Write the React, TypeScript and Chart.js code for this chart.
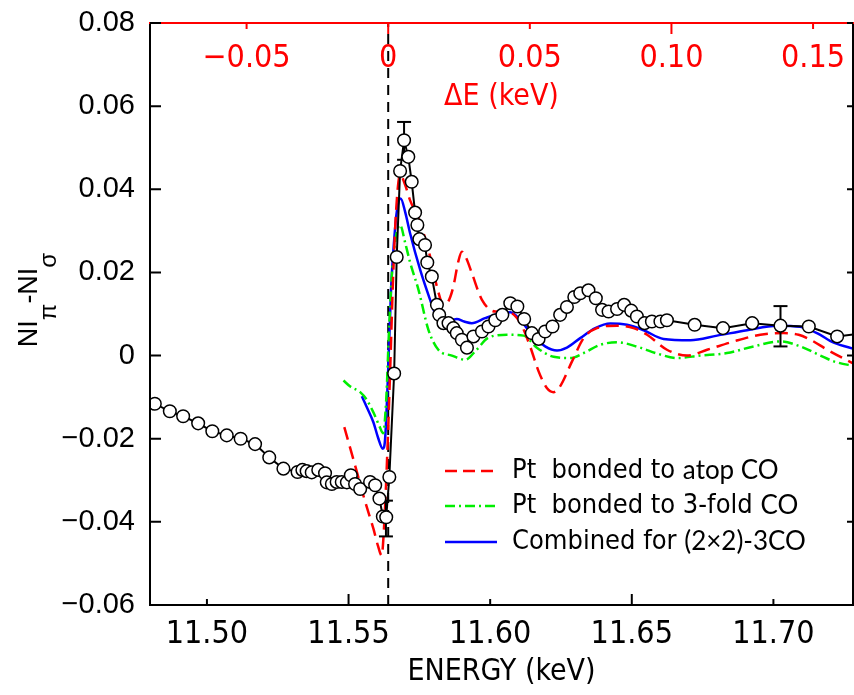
import React, { useEffect, useRef } from "react";
import { Chart, registerables } from "chart.js";

Chart.register(...registerables);

// ---------- data ----------
const E0 = 11.564; // edge energy (keV), origin of the ΔE axis
const X_MIN = 11.4799;
const X_MAX = 11.7281;
const Y_MIN = -0.06;
const Y_MAX = 0.08;

const xTicks = [11.5, 11.55, 11.6, 11.65, 11.7];
const xTickLabels = ["11.50", "11.55", "11.60", "11.65", "11.70"];
const yTicks = [-0.06, -0.04, -0.02, 0, 0.02, 0.04, 0.06, 0.08];
const yTickLabels = ["−0.06", "−0.04", "−0.02", "0", "0.02", "0.04", "0.06", "0.08"];
const dETicks = [-0.05, 0, 0.05, 0.1, 0.15];
const dETickLabels = ["−0.05", "0", "0.05", "0.10", "0.15"];

const xTitle = "ENERGY (keV)";
const topTitle = "ΔE (keV)";

// experimental NIπ − NIσ
const expE = [11.4785, 11.4816, 11.4869, 11.4916, 11.4969, 11.5019, 11.507, 11.5119, 11.517, 11.522, 11.527, 11.532, 11.5337, 11.5352, 11.537, 11.5393, 11.5417, 11.5423, 11.5441, 11.5458, 11.5476, 11.5494, 11.5508, 11.5523, 11.5541, 11.5576, 11.5594, 11.5609, 11.5621, 11.5633, 11.5644, 11.5661, 11.567, 11.5682, 11.5696, 11.5711, 11.5723, 11.5735, 11.5743, 11.575, 11.577, 11.5778, 11.5794, 11.5812, 11.582, 11.5835, 11.5853, 11.587, 11.5882, 11.59, 11.5918, 11.5941, 11.5971, 11.5994, 11.6018, 11.6043, 11.6071, 11.6096, 11.612, 11.6147, 11.6171, 11.6194, 11.622, 11.6247, 11.6271, 11.6297, 11.6318, 11.6347, 11.6373, 11.6395, 11.6418, 11.6448, 11.6473, 11.6498, 11.6518, 11.6545, 11.6571, 11.6601, 11.6624, 11.6722, 11.6822, 11.6925, 11.7025, 11.7125, 11.7225, 11.73];
const expV = [-0.0093, -0.0116, -0.0134, -0.0146, -0.0163, -0.0182, -0.0192, -0.02, -0.0213, -0.0245, -0.0272, -0.028, -0.0275, -0.0278, -0.0281, -0.0275, -0.0283, -0.0305, -0.0309, -0.0304, -0.0304, -0.0305, -0.0288, -0.0309, -0.0321, -0.0304, -0.0312, -0.0344, -0.0387, -0.0389, -0.0292, -0.0043, 0.0237, 0.0444, 0.0518, 0.0478, 0.0418, 0.0344, 0.0314, 0.028, 0.0266, 0.0224, 0.019, 0.0122, 0.0098, 0.0078, 0.0078, 0.0066, 0.0054, 0.0038, 0.0019, 0.0046, 0.0058, 0.007, 0.0085, 0.0098, 0.0126, 0.0118, 0.0088, 0.0054, 0.004, 0.0058, 0.007, 0.0098, 0.0117, 0.0141, 0.015, 0.0157, 0.0138, 0.011, 0.0106, 0.0112, 0.0122, 0.0108, 0.0094, 0.0078, 0.0082, 0.0082, 0.0085, 0.0074, 0.0066, 0.0078, 0.0072, 0.007, 0.0046, 0.0052];

// error bars
const errE = [11.5632, 11.5696, 11.7025];
const errLo = [-0.0435, 0.0471, 0.0022];
const errHi = [-0.0349, 0.0562, 0.0119];

// Pt bonded to atop CO
const redE = [11.5485, 11.5523, 11.5558, 11.5588, 11.5604, 11.5617, 11.5625, 11.5636, 11.5647, 11.5657, 11.5668, 11.5682, 11.57, 11.5717, 11.5746, 11.577, 11.5788, 11.5812, 11.5835, 11.5852, 11.587, 11.5887, 11.59, 11.5915, 11.5935, 11.5971, 11.6018, 11.6059, 11.6106, 11.6141, 11.6171, 11.62, 11.6224, 11.6247, 11.6289, 11.633, 11.6377, 11.6448, 11.6506, 11.6554, 11.6624, 11.6695, 11.6766, 11.686, 11.6954, 11.7036, 11.7089, 11.7131, 11.719, 11.729];
const redV = [-0.0172, -0.0264, -0.035, -0.0417, -0.0458, -0.0481, -0.0417, -0.0249, -0.0034, 0.0182, 0.035, 0.0435, 0.041, 0.0374, 0.0331, 0.0283, 0.0238, 0.0166, 0.0122, 0.013, 0.0166, 0.0225, 0.025, 0.0235, 0.0199, 0.0134, 0.0106, 0.0106, 0.0079, 0.0022, -0.0038, -0.0078, -0.0088, -0.0074, -0.0014, 0.0042, 0.0066, 0.0072, 0.0066, 0.005, 0.0014, 0.0, 0.0014, 0.0034, 0.005, 0.0054, 0.005, 0.0038, 0.0014, -0.0022];

// Pt bonded to 3-fold CO
const greenE = [11.5482, 11.5505, 11.5541, 11.5564, 11.5588, 11.5611, 11.5622, 11.5633, 11.5643, 11.5654, 11.5668, 11.5682, 11.57, 11.5717, 11.5747, 11.5782, 11.5817, 11.5865, 11.5912, 11.5947, 11.5994, 11.6059, 11.6118, 11.6165, 11.6224, 11.6283, 11.633, 11.6389, 11.6448, 11.653, 11.6589, 11.666, 11.6742, 11.6836, 11.693, 11.7025, 11.7095, 11.7166, 11.7213, 11.729];
const greenV = [-0.006, -0.0074, -0.0088, -0.0106, -0.0137, -0.0173, -0.0187, -0.0106, 0.0062, 0.0206, 0.0288, 0.0314, 0.0271, 0.0225, 0.0158, 0.0062, 0.0014, 0.0, -0.001, 0.001, 0.0043, 0.005, 0.0048, 0.0019, -0.0003, -0.0006, 0.0006, 0.0026, 0.0032, 0.0019, 0.0005, -0.0006, 0.0, 0.0006, 0.0022, 0.0034, 0.0022, 0.0, -0.0014, -0.0026];

// Combined for (2×2)-3CO
const blueE = [11.5547, 11.5565, 11.5588, 11.5604, 11.5621, 11.5629, 11.564, 11.565, 11.5661, 11.5671, 11.5684, 11.57, 11.5717, 11.5753, 11.5788, 11.5812, 11.5835, 11.5859, 11.5882, 11.5908, 11.5935, 11.5982, 11.6029, 11.6071, 11.6106, 11.6152, 11.6194, 11.6236, 11.6271, 11.6318, 11.6371, 11.6424, 11.6483, 11.6542, 11.6612, 11.6707, 11.6801, 11.6907, 11.7013, 11.7095, 11.7154, 11.7213, 11.729];
const blueV = [-0.0098, -0.0125, -0.0161, -0.0197, -0.0224, -0.0201, -0.0034, 0.0158, 0.0278, 0.035, 0.0378, 0.0345, 0.0295, 0.0206, 0.0134, 0.009, 0.007, 0.0082, 0.0088, 0.0082, 0.0078, 0.009, 0.01, 0.0104, 0.0086, 0.0046, 0.0022, 0.0012, 0.0019, 0.0042, 0.0066, 0.0077, 0.0074, 0.0061, 0.004, 0.0037, 0.0048, 0.0061, 0.0072, 0.0069, 0.0054, 0.0031, 0.0015];

const legendLabels = ["Pt bonded to atop CO", "Pt bonded to 3-fold CO", "Combined for (2×2)-3CO"];
// how each legend label is typeset: [text, font kind]
const legendParts: [string, string][][] = [
  [["Pt  bonded to ", "narrow"], ["atop CO", "gothic"]],
  [["Pt  bonded to 3-fold ", "narrow"], ["CO", "gothic"]],
  [["Combined for ", "narrow"], ["(2×2)-3CO", "gothic"]],
];

// ---------- styles ----------
const NARROW = '"Liberation Sans Narrow", "DejaVu Sans Condensed", "Liberation Sans", sans-serif';
const SANS = '"Liberation Sans", Arial, sans-serif';
const GOTHIC = 'Lato, "DejaVu Sans", sans-serif';
const RED = "#ff0000";
const GREEN = "#00ee00";
const BLUE = "#0000ff";
const RED_DASH = [13, 7];
const GREEN_DASH = [10, 4, 2, 4];

const pts = (xs: number[], ys: number[]) => xs.map((x, i) => ({ x, y: ys[i] }));

const overlayPlugin = {
  id: "overlay",
  afterDatasetsDraw(chart: any) {
    const { ctx, chartArea, scales } = chart;
    const { left, right, top, bottom } = chartArea;
    const xs = scales.x;
    const ys = scales.y;
    ctx.save();

    // frame
    ctx.setLineDash([]);
    ctx.lineCap = "butt";
    ctx.lineWidth = 2;
    ctx.strokeStyle = "#000";
    ctx.beginPath();
    ctx.moveTo(left, top);
    ctx.lineTo(left, bottom);
    ctx.lineTo(right, bottom);
    ctx.lineTo(right, top);
    ctx.stroke();
    ctx.strokeStyle = RED;
    ctx.beginPath();
    ctx.moveTo(left - 1, top);
    ctx.lineTo(right + 1, top);
    ctx.stroke();

    // inward ticks: left / right
    ctx.strokeStyle = "#000";
    ctx.lineWidth = 2;
    yTicks.forEach((v) => {
      const py = ys.getPixelForValue(v);
      ctx.beginPath();
      ctx.moveTo(left, py);
      ctx.lineTo(left + 11, py);
      ctx.moveTo(right, py);
      ctx.lineTo(right - 6, py);
      ctx.stroke();
    });
    // bottom ticks
    xTicks.forEach((v, i) => {
      const px = xs.getPixelForValue(v);
      const len = i % 2 === 1 ? 11 : 6;
      ctx.beginPath();
      ctx.moveTo(px, bottom);
      ctx.lineTo(px, bottom - len);
      ctx.stroke();
    });
    // top ΔE axis (red)
    ctx.strokeStyle = RED;
    ctx.fillStyle = RED;
    ctx.font = `32px ${NARROW}`;
    ctx.textAlign = "center";
    ctx.textBaseline = "middle";
    dETicks.forEach((d, i) => {
      const px = xs.getPixelForValue(E0 + d);
      const len = i % 2 === 1 ? 11 : 6;
      ctx.beginPath();
      ctx.moveTo(px, top);
      ctx.lineTo(px, top + len);
      ctx.stroke();
      ctx.fillText(dETickLabels[i], px, 59);
    });
    ctx.font = `30px ${NARROW}`;
    ctx.fillText(topTitle, (left + right) / 2, 97);

    // legend
    const lx0 = 445;
    const lx1 = 497;
    const tx = 512;
    const rowsY = [471, 506, 542];
    const styles = [
      { c: RED, d: [12, 6] },
      { c: GREEN, d: GREEN_DASH },
      { c: BLUE, d: [] as number[] },
    ];
    rowsY.forEach((yy, r) => {
      ctx.strokeStyle = styles[r].c;
      ctx.lineWidth = 2.5;
      ctx.setLineDash(styles[r].d);
      ctx.beginPath();
      ctx.moveTo(lx0, yy);
      ctx.lineTo(lx1, yy);
      ctx.stroke();
      ctx.setLineDash([]);
      let x = tx;
      ctx.fillStyle = "#000";
      ctx.textAlign = "left";
      ctx.textBaseline = "middle";
      legendParts[r].forEach(([t, kind]) => {
        ctx.font = kind === "narrow" ? `27px ${NARROW}` : `26px ${GOTHIC}`;
        ctx.fillText(t, x, yy);
        x += ctx.measureText(t).width;
      });
    });
    ctx.restore();
  },
  afterDraw(chart: any) {
    // y-axis title: NIπ − NIσ (rotated, with subscripts)
    const { ctx } = chart;
    ctx.save();
    ctx.translate(37, 300);
    ctx.rotate(-Math.PI / 2);
    ctx.fillStyle = "#000";
    ctx.textAlign = "left";
    ctx.textBaseline = "alphabetic";
    const parts: [string, boolean][] = [
      ["NI", false],
      ["π", true],
      ["-", false],
      ["NI", false],
      ["σ", true],
    ];
    const mainF = `27px ${SANS}`;
    const subF = `24px ${SANS}`;
    let total = 0;
    parts.forEach(([t, s]) => {
      ctx.font = s ? subF : mainF;
      total += ctx.measureText(t).width;
    });
    let x = -total / 2;
    parts.forEach(([t, s]) => {
      ctx.font = s ? subF : mainF;
      ctx.fillText(t, x, s ? 19 : 0);
      x += ctx.measureText(t).width;
    });
    ctx.restore();
  },
};

export default function App() {
  const ref = useRef<HTMLCanvasElement | null>(null);

  useEffect(() => {
    if (!ref.current) return;
    const errData: any[] = [];
    errE.forEach((e, i) => {
      errData.push({ x: e, y: errLo[i] }, { x: e, y: errHi[i] }, { x: e, y: null });
    });

    const chart = new Chart(ref.current, {
      type: "line",
      data: {
        datasets: [
          {
            label: "Experiment",
            data: pts(expE, expV),
            borderColor: "#000",
            borderWidth: 2,
            tension: 0,
            pointRadius: (c: any) => {
              const r = c.raw;
              return r && r.x >= X_MIN && r.x <= X_MAX ? 6.3 : 0;
            },
            pointBackgroundColor: "#fff",
            pointBorderColor: "#000",
            pointBorderWidth: 1.5,
            order: 0,
          },
          {
            label: "Error bars",
            data: errData,
            borderColor: "#000",
            borderWidth: 2,
            spanGaps: false,
            pointStyle: "line",
            pointRadius: 7,
            pointBorderWidth: 2,
            pointBorderColor: "#000",
            order: 1,
          },
          {
            label: legendLabels[0],
            data: pts(redE, redV),
            borderColor: RED,
            borderWidth: 2.5,
            borderDash: RED_DASH,
            pointRadius: 0,
            cubicInterpolationMode: "monotone",
            order: 2,
          },
          {
            label: legendLabels[1],
            data: pts(greenE, greenV),
            borderColor: GREEN,
            borderWidth: 2.5,
            borderDash: GREEN_DASH,
            pointRadius: 0,
            cubicInterpolationMode: "monotone",
            order: 3,
          },
          {
            label: legendLabels[2],
            data: pts(blueE, blueV),
            borderColor: BLUE,
            borderWidth: 2.5,
            pointRadius: 0,
            cubicInterpolationMode: "monotone",
            order: 4,
          },
          {
            label: "Edge",
            data: [
              { x: E0, y: Y_MIN },
              { x: E0, y: Y_MAX },
            ],
            borderColor: "#000",
            borderWidth: 2,
            borderDash: [10, 7],
            pointRadius: 0,
            order: 5,
          },
        ] as any,
      },
      options: {
        animation: false,
        responsive: false,
        events: [],
        layout: { autoPadding: false, padding: { top: 23, right: 1, left: 0, bottom: 0 } },
        plugins: {
          legend: { display: false },
          tooltip: { enabled: false },
        },
        scales: {
          x: {
            type: "linear",
            position: "bottom",
            min: X_MIN,
            max: X_MAX,
            grid: { display: false, drawTicks: false },
            border: { display: false },
            ticks: {
              font: { family: NARROW, size: 32 },
              color: "#000",
              padding: 10,
              maxRotation: 0,
              autoSkip: false,
              callback: (v: any) => {
                const i = xTicks.findIndex((t) => Math.abs(t - Number(v)) < 1e-9);
                return i >= 0 ? xTickLabels[i] : "";
              },
            },
            title: {
              display: true,
              text: xTitle,
              color: "#000",
              font: { family: NARROW, size: 30 },
              padding: { top: 0, bottom: 5 },
            },
            afterBuildTicks: (s: any) => {
              s.ticks = xTicks.map((v) => ({ value: v }));
            },
            afterFit: (s: any) => {
              s.height = 90;
              s.paddingLeft = 0;
              s.paddingRight = 0;
            },
          },
          y: {
            type: "linear",
            position: "left",
            min: Y_MIN,
            max: Y_MAX,
            grid: { display: false, drawTicks: false },
            border: { display: false },
            ticks: {
              font: { family: SANS, size: 29 },
              color: "#000",
              padding: 15,
              autoSkip: false,
              callback: (v: any) => {
                const i = yTicks.findIndex((t) => Math.abs(t - Number(v)) < 1e-9);
                return i >= 0 ? yTickLabels[i] : "";
              },
            },
            afterBuildTicks: (s: any) => {
              s.ticks = yTicks.map((v) => ({ value: v }));
            },
            afterFit: (s: any) => {
              s.width = 150;
              s.paddingTop = 0;
              s.paddingBottom = 0;
            },
          },
        },
      } as any,
      plugins: [overlayPlugin],
    });
    return () => chart.destroy();
  }, []);

  return (
    <div style={{ position: "absolute", left: 0, top: 0, width: 854, height: 695, background: "#fff" }}>
      <canvas ref={ref} width={854} height={695} style={{ display: "block", width: 854, height: 695 }} />
    </div>
  );
}
